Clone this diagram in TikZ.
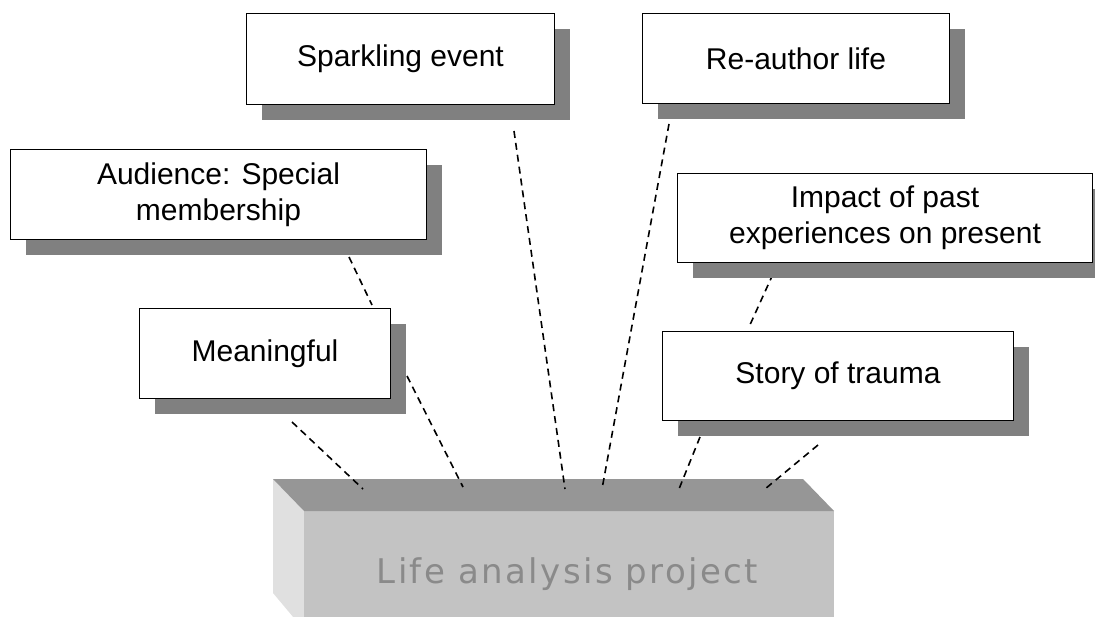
\documentclass[tikz,border=0pt]{standalone}
\usepackage{fontspec}
\setmainfont{Liberation Sans}
\newfontfamily\blockfont[LetterSpace=7]{DejaVu Sans}
\usetikzlibrary{shadows}

\definecolor{shadowgray}{HTML}{808080}
\definecolor{topface}{HTML}{969696}
\definecolor{frontface}{HTML}{C3C3C3}
\definecolor{sideface}{HTML}{E0E0E0}
\definecolor{blocktext}{HTML}{8A8A8A}

\tikzset{
  labelbox/.style={draw=black, line width=1.7pt, fill=white, inner sep=0pt,
    align=center, font=\fontsize{30}{36}\selectfont,
    drop shadow={shadow xshift=15.5pt, shadow yshift=-15.5pt,
      fill=shadowgray, opacity=1}},
  link/.style={draw=black, line width=1.6pt, dash pattern=on 7pt off 5pt}
}

\begin{document}
\begin{tikzpicture}[x=1pt, y=-1pt]
  \useasboundingbox (0,0) rectangle (1095,617);
  \clip (0,0) rectangle (1095,617);

  % the project block
  \fill[sideface] (273,479) -- (304,511) -- (304,630) -- (273,593) -- cycle;
  \fill[frontface] (304,511) rectangle (834,630);
  \fill[topface] (273,479) -- (803,479) -- (834,511) -- (304,511) -- cycle;
  \node[anchor=base, text=blocktext, inner sep=0pt,
        font=\blockfont\fontsize{34}{40}\selectfont]
    (project) at (567.5,583) {Life analysis project};

  % end points of the dashed links
  \coordinate (m1) at (292,422);   \coordinate (p1) at (363,489);
  \coordinate (a1) at (349,257);   \coordinate (m2) at (372,305);
  \coordinate (m3) at (407,376);   \coordinate (p3) at (463,487);
  \coordinate (s1) at (514,131);   \coordinate (p4) at (565,489);
  \coordinate (r1) at (669,124);   \coordinate (p5) at (602,489);
  \coordinate (i1) at (778,263);   \coordinate (t1) at (749,327);
  \coordinate (t2) at (700,437);   \coordinate (p7) at (679,489);
  \coordinate (t3) at (818,445);   \coordinate (p8) at (765,489);

  \draw[link] (m1) -- (p1);
  \draw[link] (a1) -- (m2);
  \draw[link] (m3) -- (p3);
  \draw[link] (s1) -- (p4);
  \draw[link] (r1) -- (p5);
  \draw[link] (i1) -- (t1);
  \draw[link] (t2) -- (p7);
  \draw[link] (t3) -- (p8);

  % labelled boxes
  \node[labelbox, minimum width=308pt, minimum height=91pt]
    (spark) at (400.5,59) {Sparkling event};
  \node[labelbox, minimum width=307pt, minimum height=90pt]
    (reauthor) at (796,58.5) {Re-author life};
  \node[labelbox, minimum width=416pt, minimum height=90pt]
    (audience) at (218.5,194.5) {Audience: Special\\membership};
  \node[labelbox, minimum width=251pt, minimum height=90pt]
    (meaning) at (265,353.5) {Meaningful};
  \node[labelbox, minimum width=415pt, minimum height=89pt]
    (impact) at (885,218) {Impact of past\\experiences on present};
  \node[labelbox, minimum width=351pt, minimum height=89pt]
    (story) at (838,376) {Story of trauma};
\end{tikzpicture}
\end{document}
